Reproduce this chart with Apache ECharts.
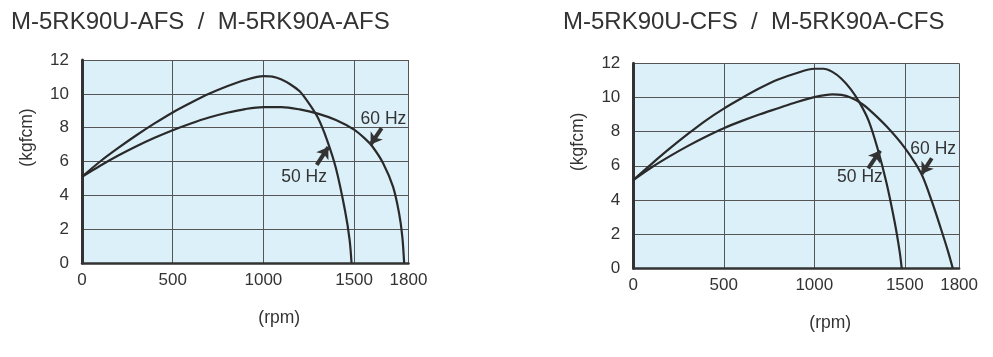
<!DOCTYPE html>
<html>
<head>
<meta charset="utf-8">
<script src="https://cdn.jsdelivr.net/npm/echarts@6/dist/echarts.min.js"></script>
<style>
html,body{margin:0;padding:0;background:#fff;}
#c{width:993px;height:357px;}
</style>
</head>
<body>
<div id="c"></div>
<script>
// ---- data (rpm, kgfcm) ----
const titleAFS = 'M-5RK90U-AFS  /  M-5RK90A-AFS';
const titleCFS = 'M-5RK90U-CFS  /  M-5RK90A-CFS';
const xName = '(rpm)';
const yName = '(kgfcm)';

const afs50 = [[0,5.1],[100,6.0],[200,6.8],[300,7.55],[400,8.25],[500,8.9],[600,9.47],[700,10.0],[800,10.45],[900,10.82],[1000,11.05],[1050,11.02],[1100,10.85],[1150,10.55],[1200,10.15],[1250,9.45],[1300,8.6],[1350,7.3],[1400,5.6],[1450,3.1],[1475,1.4],[1486,0]];
const afs60 = [[0,5.1],[100,5.75],[200,6.35],[300,6.9],[400,7.4],[500,7.85],[600,8.25],[700,8.6],[800,8.88],[900,9.1],[1000,9.22],[1100,9.22],[1200,9.08],[1300,8.83],[1400,8.45],[1500,7.88],[1560,7.35],[1600,6.9],[1660,5.9],[1715,4.5],[1748,2.95],[1766,1.55],[1776,0]];
const cfs50 = [[0,5.17],[100,6.1],[200,7.0],[300,7.85],[400,8.65],[500,9.35],[600,9.97],[700,10.55],[800,11.05],[900,11.42],[1000,11.68],[1050,11.68],[1100,11.5],[1150,11.1],[1200,10.5],[1250,9.7],[1300,8.65],[1350,7.0],[1400,4.95],[1445,2.65],[1472,0.95],[1483,0]];
const cfs60 = [[0,5.17],[100,5.9],[200,6.55],[300,7.15],[400,7.7],[500,8.2],[600,8.63],[700,9.02],[800,9.37],[900,9.72],[1000,10.02],[1100,10.18],[1150,10.15],[1200,10.0],[1250,9.72],[1300,9.32],[1400,8.3],[1500,7.05],[1590,5.56],[1650,3.9],[1700,2.3],[1740,0.95],[1765,0]];

// annotation positions (data coords)
const afsArrow50 = [[1294,5.8],[1358,6.85]];
const afsArrow60 = [[1652,7.97],[1591,7.0]];
const afsLabel50 = [1224,5.1];
const afsLabel60 = [1662,8.52];
const cfsArrow50 = [[1298,5.85],[1364,6.89]];
const cfsArrow60 = [[1649,6.44],[1593,5.52]];
const cfsLabel50 = [1252,5.32];
const cfsLabel60 = [1657,6.97];

const FONT = "'Liberation Sans', Arial, sans-serif";
const TXT = '#333';

function xAxisFor(gi){
  return {
    type:'value', gridIndex:gi, min:0, max:1800, interval:500,
    name:xName, nameLocation:'middle', nameGap:46,
    nameTextStyle:{fontFamily:FONT,fontSize:17.5,color:TXT,padding:[0,0,0,68]},
    axisLine:{show:true,onZero:false,lineStyle:{color:'#333',width:2.5}},
    axisTick:{show:false},
    axisLabel:{fontFamily:FONT,fontSize:17,color:TXT,margin:9,showMaxLabel:true,showMinLabel:true,
      formatter:function(v){return String(v);}},
    splitLine:{show:true,lineStyle:{color:'#555',width:1}}
  };
}
function yAxisFor(gi){
  return {
    type:'value', gridIndex:gi, min:0, max:12, interval:2,
    name:yName, nameLocation:'middle', nameRotate:90, nameGap:46,
    nameTextStyle:{fontFamily:FONT,fontSize:17.5,color:TXT,padding:[0,0,0,48]},
    axisLine:{show:true,lineStyle:{color:'#333',width:3}},
    axisTick:{show:false},
    axisLabel:{fontFamily:FONT,fontSize:17,color:TXT,margin:13,formatter:function(v){return String(v);}},
    splitLine:{show:true,lineStyle:{color:'#555',width:1}}
  };
}
function curve(gi,data){
  return {type:'line',xAxisIndex:gi,yAxisIndex:gi,data:data,showSymbol:false,smooth:0.3,
    lineStyle:{color:'#2a2a2a',width:2.2},z:3,silent:true};
}
function annot(gi,a50,a60,l50,l60){
  return {type:'line',xAxisIndex:gi,yAxisIndex:gi,data:[],silent:true,z:4,
    markLine:{silent:true,symbol:['none','arrow'],symbolSize:[11,11],animation:false,
      lineStyle:{color:'#333',width:4,type:'solid'},label:{show:false},
      data:[[{coord:a50[0]},{coord:a50[1]}],[{coord:a60[0]},{coord:a60[1]}]]},
    markPoint:{silent:true,symbol:'circle',symbolSize:0,animation:false,
      label:{show:true,position:'inside',fontFamily:FONT,fontSize:17.5,color:TXT},
      data:[{coord:l50,value:'50 Hz',label:{formatter:'50 Hz'}},{coord:l60,value:'60 Hz',label:{formatter:'60 Hz'}}]}
  };
}

const chart = echarts.init(document.getElementById('c'),null,{renderer:'canvas'});
chart.setOption({
  animation:false,
  backgroundColor:'#fff',
  title:[
    {text:titleAFS,left:6,top:5,textStyle:{fontFamily:FONT,fontSize:24,fontWeight:'normal',color:TXT}},
    {text:titleCFS,left:558,top:5,textStyle:{fontFamily:FONT,fontSize:24,fontWeight:'normal',color:TXT}}
  ],
  grid:[
    {left:82,top:60,width:326.5,height:203,show:true,backgroundColor:'#dcf0fa',borderWidth:0,containLabel:false},
    {left:633.3,top:63.3,width:325.8,height:205,show:true,backgroundColor:'#dcf0fa',borderWidth:0,containLabel:false}
  ],
  xAxis:[xAxisFor(0),xAxisFor(1)],
  yAxis:[yAxisFor(0),yAxisFor(1)],
  series:[
    curve(0,afs50),curve(0,afs60),curve(1,cfs50),curve(1,cfs60),
    annot(0,afsArrow50,afsArrow60,afsLabel50,afsLabel60),
    annot(1,cfsArrow50,cfsArrow60,cfsLabel50,cfsLabel60)
  ]
});
</script>
</body>
</html>
